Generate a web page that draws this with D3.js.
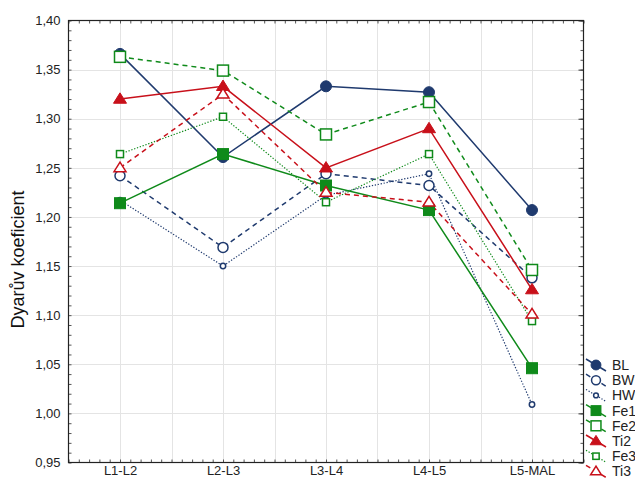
<!DOCTYPE html>
<html>
<head>
<meta charset="utf-8">
<script src="https://cdn.jsdelivr.net/npm/d3@7"></script>
<style>
  html, body { margin: 0; padding: 0; background: #fff; }
  svg { display: block; font-family: "Liberation Sans", Arial, sans-serif; }
</style>
</head>
<body>
<svg id="chart" width="635" height="481"></svg>
<script>
// Categories (vertebral levels) and Dyar's coefficient per series
const categories = ["L1-L2", "L2-L3", "L3-L4", "L4-L5", "L5-MAL"];
const seriesNames = ["BL", "BW", "HW", "Fe1", "Fe2", "Ti2", "Fe3", "Ti3"];

const BL  = [1.366, 1.261, 1.333, 1.327, 1.207];
const BW  = [1.242, 1.169, 1.244, 1.232, 1.138];
const HW  = [1.217, 1.150, 1.222, 1.244, 1.009];
const Fe1 = [1.214, 1.264, 1.232, 1.207, 1.046];
const Fe2 = [1.363, 1.349, 1.284, 1.317, 1.146];
const Ti2 = [1.320, 1.333, 1.250, 1.290, 1.126];
const Fe3 = [1.264, 1.302, 1.215, 1.264, 1.094];
const Ti3 = [1.250, 1.325, 1.225, 1.215, 1.101];

const yTicks = [0.95, 1.00, 1.05, 1.10, 1.15, 1.20, 1.25, 1.30, 1.35, 1.40];
const yTitle = "Dyarův koeficient";

const seriesValues = { BL, BW, HW, Fe1, Fe2, Ti2, Fe3, Ti3 };

// Visual style per series
const NAVY = "#1f3a6e", GREEN = "#0f8a1a", RED = "#c8101a";
const styles = {
  BL:  { color: NAVY,  dash: null,    width: 1.5, shape: "circle",   fill: true,  size: 5.5 },
  BW:  { color: NAVY,  dash: "5,4",   width: 1.5, shape: "circle",   fill: false, size: 5.5 },
  HW:  { color: NAVY,  dash: "1.3,1.7", width: 1.2, shape: "circle", fill: false, size: 3.2 },
  Fe1: { color: GREEN, dash: null,    width: 1.5, shape: "square",   fill: true,  size: 5.5 },
  Fe2: { color: GREEN, dash: "5,4",   width: 1.5, shape: "square",   fill: false, size: 5.5 },
  Ti2: { color: RED,   dash: null,    width: 1.5, shape: "triangle", fill: true,  size: 6.5 },
  Fe3: { color: GREEN, dash: "1.3,1.7", width: 1.2, shape: "square", fill: false, size: 3.5 },
  Ti3: { color: RED,   dash: "5,4",   width: 1.5, shape: "triangle", fill: false, size: 6.0 }
};

const svg = d3.select("#chart");
const plot = { left: 68.5, right: 583.5, top: 20.5, bottom: 462.5 };

const x = d3.scaleLinear().domain([0.5, categories.length + 0.5]).range([plot.left, plot.right]);
const y = d3.scaleLinear().domain([0.95, 1.40]).range([plot.bottom, plot.top]);

const fmt = d3.formatLocale({ decimal: ",", thousands: " ", grouping: [3], currency: ["", ""] }).format(".2f");

// Gridlines
const grid = svg.append("g").attr("stroke", "#e4e4e4").attr("stroke-width", 1);
d3.range(1, categories.length * 2).forEach(i => {
  const gx = Math.round(x(0.5 + i * 0.5)) + 0.5;
  grid.append("line").attr("x1", gx).attr("x2", gx).attr("y1", plot.top).attr("y2", plot.bottom);
});
yTicks.slice(1, -1).forEach(v => {
  const gy = Math.round(y(v)) + 0.5;
  grid.append("line").attr("x1", plot.left).attr("x2", plot.right).attr("y1", gy).attr("y2", gy);
});

// Axes with inward minor ticks
const minorY = d3.range(0, 46).map(i => 0.95 + i * 0.01);
const minorX = d3.range(0, 51).map(i => 0.5 + i * 0.1);

svg.append("g").attr("transform", `translate(${plot.left},0)`)
  .call(d3.axisRight(y).tickValues(minorY).tickSize(3).tickFormat(""))
  .call(g => g.select(".domain").remove())
  .selectAll("line").attr("stroke", "#555");
svg.append("g").attr("transform", `translate(${plot.right},0)`)
  .call(d3.axisLeft(y).tickValues(minorY).tickSize(3).tickFormat(""))
  .call(g => g.select(".domain").remove())
  .selectAll("line").attr("stroke", "#555");
svg.append("g").attr("transform", `translate(${plot.right},0)`)
  .call(d3.axisLeft(y).tickValues(yTicks).tickSize(5).tickFormat(""))
  .call(g => g.select(".domain").remove())
  .selectAll("line").attr("stroke", "#333");
svg.append("g").attr("transform", `translate(0,${plot.bottom})`)
  .call(d3.axisTop(x).tickValues(minorX).tickSize(3).tickFormat(""))
  .call(g => g.select(".domain").remove())
  .selectAll("line").attr("stroke", "#555");
svg.append("g").attr("transform", `translate(0,${plot.top})`)
  .call(d3.axisBottom(x).tickValues(minorX).tickSize(3).tickFormat(""))
  .call(g => g.select(".domain").remove())
  .selectAll("line").attr("stroke", "#555");

// Y tick labels
const yAxis = svg.append("g").attr("transform", `translate(${plot.left},0)`)
  .call(d3.axisLeft(y).tickValues(yTicks).tickSize(0).tickPadding(8).tickFormat(fmt));
yAxis.select(".domain").remove();
yAxis.selectAll("text").attr("font-size", 13).attr("fill", "#222")
  .attr("font-family", "'Liberation Sans', Arial, sans-serif");

// X tick labels
const xAxis = svg.append("g").attr("transform", `translate(0,${plot.bottom})`)
  .call(d3.axisBottom(x).tickValues(categories.map((c, i) => i + 1)).tickSize(0).tickPadding(3)
    .tickFormat((d) => categories[d - 1]));
xAxis.select(".domain").remove();
xAxis.selectAll("text").attr("font-size", 13).attr("fill", "#222")
  .attr("font-family", "'Liberation Sans', Arial, sans-serif");

// Plot frame
svg.append("rect")
  .attr("x", plot.left).attr("y", plot.top)
  .attr("width", plot.right - plot.left).attr("height", plot.bottom - plot.top)
  .attr("fill", "none").attr("stroke", "#222").attr("stroke-width", 1.2);

// Y axis title
svg.append("text")
  .attr("transform", `translate(24,${(plot.top + plot.bottom) / 2 + 18}) rotate(-90)`)
  .attr("text-anchor", "middle")
  .attr("font-size", 18).attr("fill", "#111")
  .text(yTitle);

// Marker drawing
function drawMarker(g, st, cx, cy) {
  const common = s => s.attr("stroke", st.color).attr("stroke-width", st.fill ? 1 : 1.5)
    .attr("fill", st.fill ? st.color : "#fff");
  const r = st.size;
  if (st.shape === "circle") {
    common(g.append("circle").attr("cx", cx).attr("cy", cy).attr("r", st.fill ? r : r - 0.5));
  } else if (st.shape === "square") {
    common(g.append("rect").attr("x", cx - r).attr("y", cy - r).attr("width", 2 * r).attr("height", 2 * r));
  } else {
    const h = r * 1.6;
    common(g.append("path").attr("d",
      `M${cx},${cy - h * 0.6}L${cx + r},${cy + h * 0.4}L${cx - r},${cy + h * 0.4}Z`));
  }
}

// Series lines and markers
const line = d3.line().x((d, i) => x(i + 1)).y(d => y(d));
const series = svg.append("g");
seriesNames.forEach(name => {
  const st = styles[name];
  series.append("path")
    .datum(seriesValues[name])
    .attr("d", line)
    .attr("fill", "none")
    .attr("stroke", st.color)
    .attr("stroke-width", st.width)
    .attr("stroke-dasharray", st.dash);
});
seriesNames.forEach(name => {
  const st = styles[name];
  const g = series.append("g");
  seriesValues[name].forEach((v, i) => drawMarker(g, st, x(i + 1), y(v)));
});

// Legend
const legend = svg.append("g");
seriesNames.forEach((name, i) => {
  const st = styles[name];
  const ly = 365 + i * 15.2;
  const g = legend.append("g");
  g.append("line")
    .attr("x1", 586).attr("y1", ly - 6).attr("x2", 606).attr("y2", ly + 6)
    .attr("stroke", st.color).attr("stroke-width", st.width)
    .attr("stroke-dasharray", st.dash);
  const small = Object.assign({}, st, { size: st.size * 0.9 });
  drawMarker(g, small, 596, ly);
  g.append("text").attr("x", 612).attr("y", ly + 5)
    .attr("font-size", 14).attr("fill", "#222").text(name);
});
</script>
</body>
</html>
